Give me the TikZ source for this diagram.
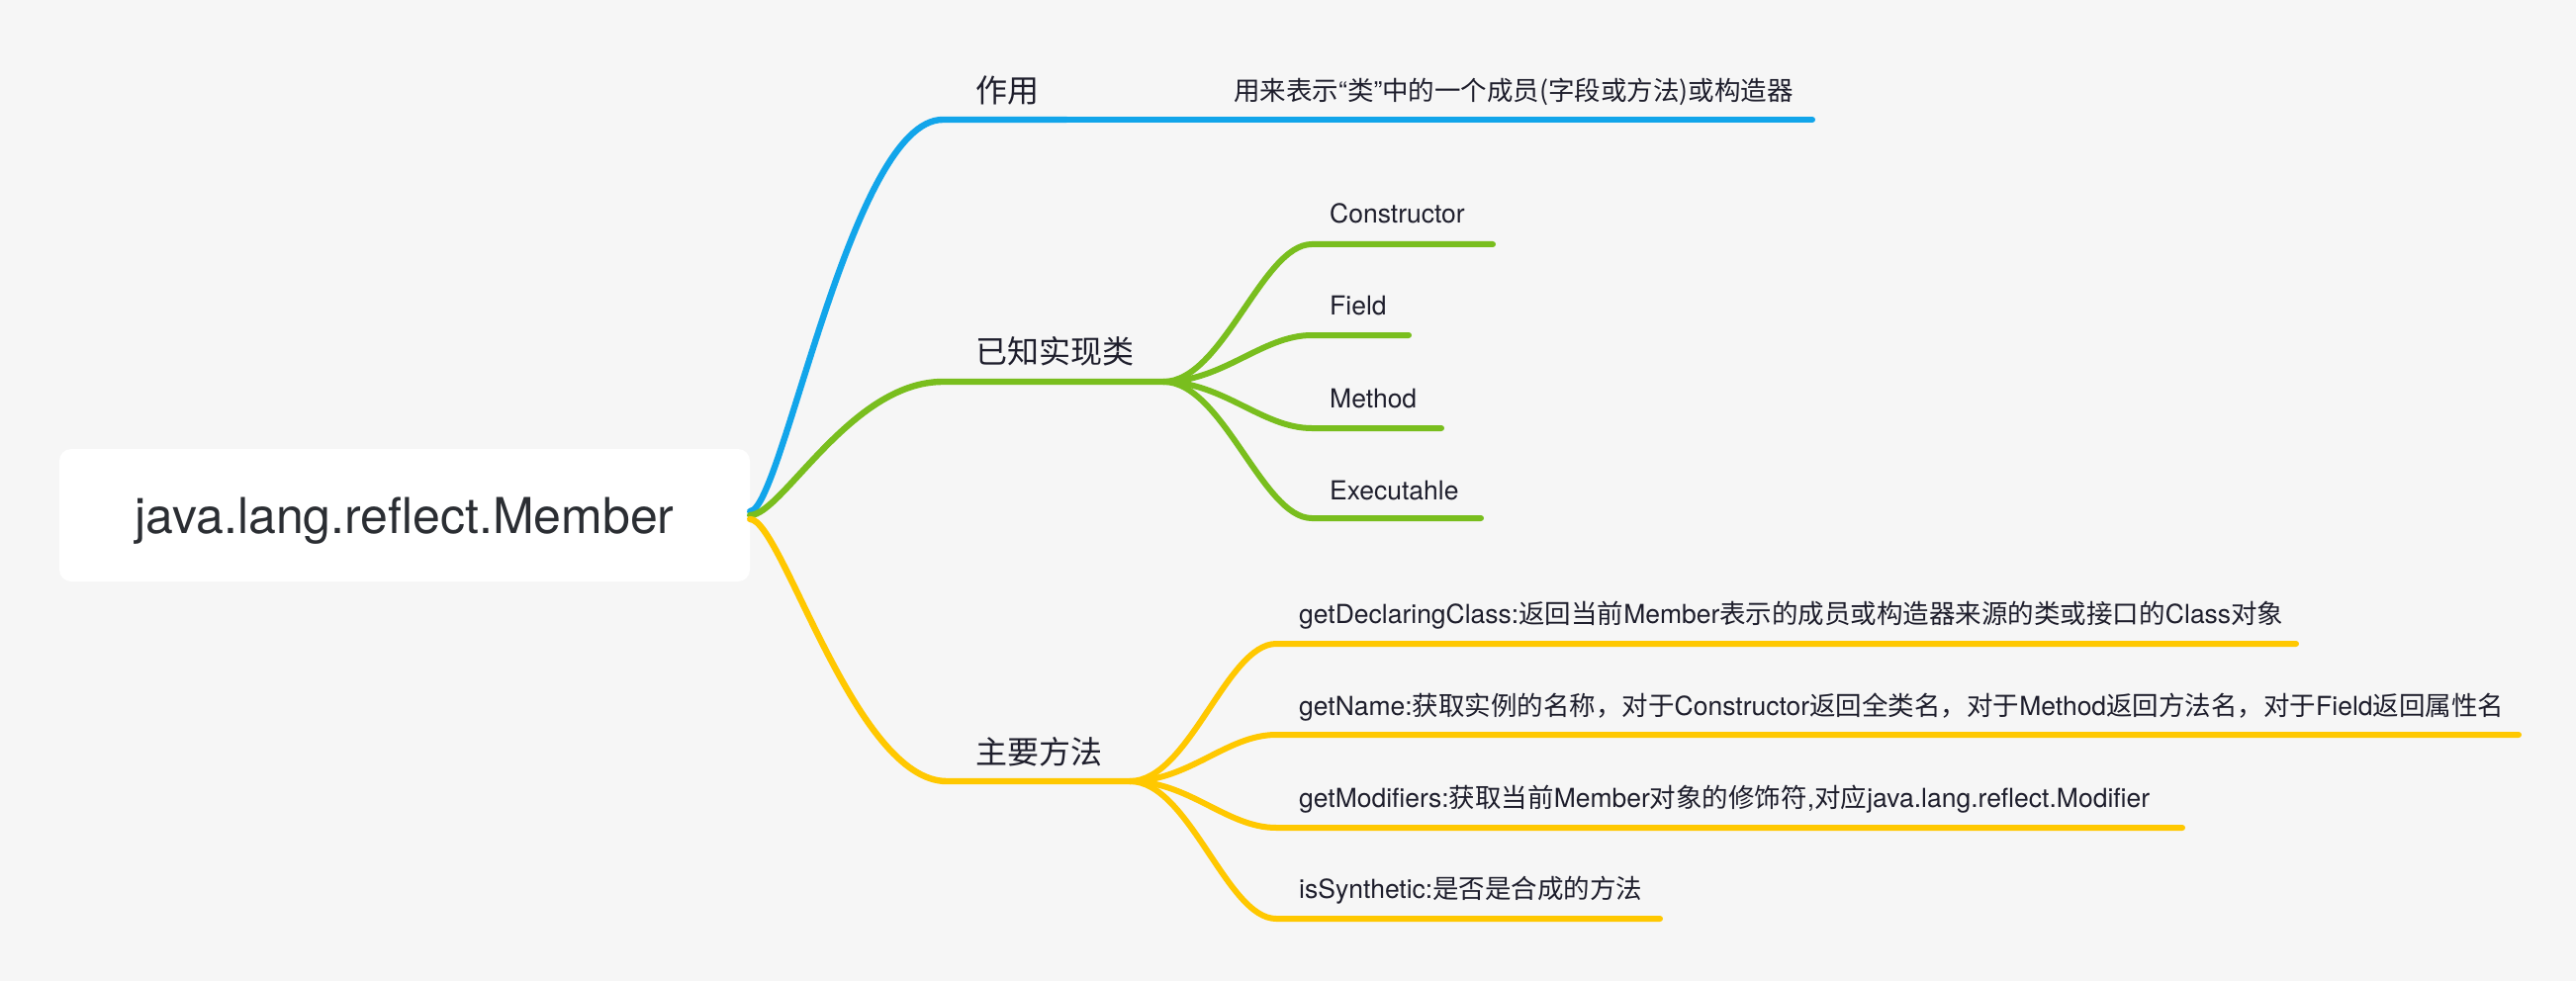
\documentclass[tikz,border=0pt]{standalone}
\usepackage{fontspec}
\setmainfont{TeX Gyre Heros}
\newfontfamily\cjk{Noto Sans CJK SC}
\newcommand\zh[1]{{\cjk #1}}
\definecolor{bgc}{HTML}{F6F6F6}
\definecolor{bluec}{HTML}{12A5EA}
\definecolor{greenc}{HTML}{79BE1E}
\definecolor{yellowc}{HTML}{FFC800}
\definecolor{txtc}{HTML}{1E1E2C}
\definecolor{roottxtc}{HTML}{2B2E33}
\tikzset{
  rootbox/.style={draw=none, fill=white, rounded corners=12pt, minimum width=698pt, minimum height=134pt, inner sep=0pt},
  roottext/.style={inner sep=0pt, text=roottxtc, font=\fontsize{50}{58}\selectfont},
  btext/.style={inner sep=0pt, text=txtc, font=\cjk\fontsize{32}{38}\selectfont},
  ltext/.style={inner sep=0pt, text=txtc, font=\fontsize{26.5}{30}\selectfont},
  mainline/.style={line width=6.4pt, line cap=round},
  leafline/.style={line width=6pt, line cap=round},
}
\begin{document}
\begin{tikzpicture}[x=1pt,y=-1pt]
\fill[bgc] (0,0) rectangle (2604,992);
\useasboundingbox (0,0) rectangle (2604,992);

% root
\node[rootbox] (root) at (409,521) {};
\node[roottext, anchor=base] (roottxt) at (409,539) {java.lang.reflect.Member};

% branch coordinates
\coordinate (b1a) at (953,121);  \coordinate (b1b) at (1078,121);
\coordinate (b2a) at (953,386);  \coordinate (b2b) at (1176,386);
\coordinate (b3a) at (957,790);  \coordinate (b3b) at (1142,790);

% branch texts
\node[btext, anchor=base west] (t1) at (986,104) {作用};
\node[btext, anchor=base west] (t2) at (986,367) {已知实现类};
\node[btext, anchor=base west] (t3) at (986,772) {主要方法};

% blue branch
\draw[mainline, bluec] ([yshift=4pt]root.east) .. controls +(32,0) and +(-93,0) .. (b1a) -- (b1b);
\coordinate (l1) at (1832,121);
\draw[leafline, bluec] (b1b) -- (l1);
\node[ltext, anchor=base west] (lt1) at (1247,102) {\zh{用来表示}“\zh{类}”\zh{中的一个成员(字段或方法)或构造器}};

% green branch
\draw[mainline, greenc] (root.east) .. controls +(32,0) and +(-93,0) .. (b2a) -- (b2b);
\coordinate (g1a) at (1326,247); \coordinate (g1b) at (1509,247);
\coordinate (g2a) at (1326,339); \coordinate (g2b) at (1424,339);
\coordinate (g3a) at (1326,433); \coordinate (g3b) at (1457,433);
\coordinate (g4a) at (1326,524); \coordinate (g4b) at (1497,524);
\foreach \i in {1,2,3,4}{
  \draw[leafline, greenc] (b2b) .. controls +(60,0) and +(-50,0) .. (g\i a) -- (g\i b);
}
\node[ltext, anchor=base west] (gt1) at (1344,226) {Constructor};
\node[ltext, anchor=base west] (gt2) at (1344,319) {Field};
\node[ltext, anchor=base west] (gt3) at (1344,412) {Method};
\node[ltext, anchor=base west] (gt4) at (1344,505) {Executahle};

% yellow branch
\draw[mainline, yellowc] ([yshift=-4pt]root.east) .. controls +(32,0) and +(-93,0) .. (b3a) -- (b3b);
\coordinate (y1a) at (1290,651); \coordinate (y1b) at (2321,651);
\coordinate (y2a) at (1290,743); \coordinate (y2b) at (2546,743);
\coordinate (y3a) at (1290,837); \coordinate (y3b) at (2206,837);
\coordinate (y4a) at (1290,929); \coordinate (y4b) at (1678,929);
\foreach \i in {1,2,3,4}{
  \draw[leafline, yellowc] (b3b) .. controls +(60,0) and +(-50,0) .. (y\i a) -- (y\i b);
}
\node[ltext, anchor=base west] (yt1) at (1313,630) {getDeclaringClass:\zh{返回当前}Member\zh{表示的成员或构造器来源的类或接口的}Class\zh{对象}};
\node[ltext, anchor=base west] (yt2) at (1313,723) {getName:\zh{获取实例的名称，对于}Constructor\zh{返回全类名，对于}Method\zh{返回方法名，对于}Field\zh{返回属性名}};
\node[ltext, anchor=base west] (yt3) at (1313,816) {getModifiers:\zh{获取当前}Member\zh{对象的修饰符},\zh{对应}java.lang.reflect.Modifier};
\node[ltext, anchor=base west] (yt4) at (1313,908) {isSynthetic:\zh{是否是合成的方法}};
\end{tikzpicture}
\end{document}
